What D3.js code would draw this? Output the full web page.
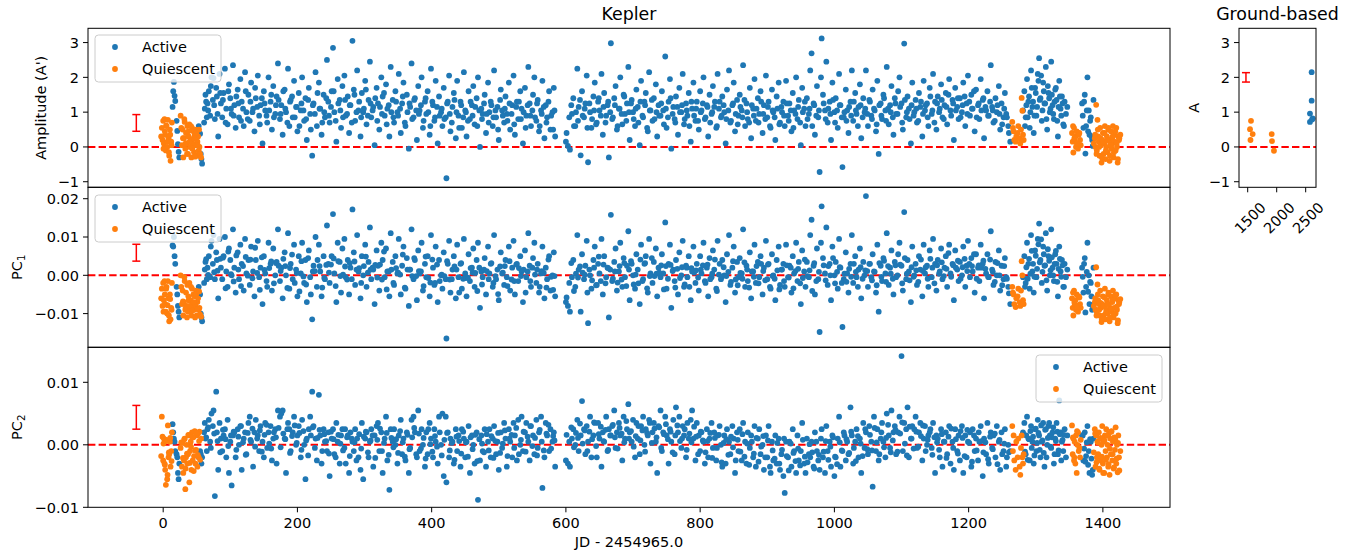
<!DOCTYPE html>
<html><head><meta charset="utf-8">
<script src="https://cdn.jsdelivr.net/npm/d3@7"></script>
<style>body{margin:0;background:#fff}svg{display:block}text{font-family:"DejaVu Sans",sans-serif;fill:#000}</style>
</head><body><svg id="c" width="1354" height="553"></svg>
<script>
// ---------------- Kepler, active epochs ----------------
const activeT=[
14,15,16,17,18,20,21,22,23,24,
53,55,56,57,58,61,62,63,65,66,
68,70,72,74,75,77,79,80,82,84,
86,88,90,92,94,96,98,100,102,104,
106,108,111,113,115,117,120,122,124,127,
129,131,134,136,138,141,143,145,148,150,
152,155,157,160,162,164,167,169,171,174,
176,178,181,183,186,188,190,193,195,198,
200,202,205,207,210,212,214,217,219,222,
224,227,229,232,234,236,239,241,244,246,
248,251,253,255,258,260,263,265,267,270,
272,275,277,279,282,284,286,289,291,294,
296,298,301,303,306,308,310,313,315,318,
320,322,325,327,330,332,334,337,339,342,
344,346,349,351,354,356,358,361,363,366,
368,370,373,375,378,380,382,385,387,390,
392,394,397,399,402,404,406,409,411,414,
416,418,421,422,424,426,428,431,433,436,
438,440,443,445,448,450,452,455,457,460,
462,464,467,469,472,474,476,479,481,484,
486,488,491,493,496,498,500,503,505,508,
510,512,515,517,520,522,524,527,529,532,
534,536,539,541,544,546,548,551,553,556,
558,560,563,565,568,570,572,575,577,580,
582,584,600,603,606,609,611,614,617,619,
622,624,627,629,631,633,636,638,641,643,
646,648,650,653,655,657,660,662,664,667,
669,672,674,676,679,681,684,686,688,691,
693,695,698,700,703,705,707,710,712,715,
717,719,722,724,726,729,731,734,736,738,
741,743,745,748,750,753,755,757,760,762,
764,767,769,772,774,776,779,781,783,786,
788,790,793,795,798,800,802,805,807,810,
812,814,817,819,821,824,826,829,831,833,
836,838,840,843,845,848,850,852,855,857,
859,862,864,867,869,871,874,876,879,881,
883,886,888,890,893,895,898,900,902,905,
907,909,912,914,917,919,921,924,926,928,
931,933,936,938,940,943,945,947,950,952,
955,957,959,962,964,966,969,971,974,976,
978,980,981,983,986,988,990,993,995,997,
1000,1002,1005,1007,1009,1012,1014,1017,1019,1021,
1024,1026,1028,1031,1033,1036,1038,1040,1043,1045,
1047,1050,1052,1055,1057,1059,1062,1064,1066,1069,
1071,1073,1076,1078,1081,1083,1085,1088,1090,1092,
1095,1097,1100,1102,1104,1107,1109,1111,1114,1116,
1119,1121,1123,1126,1128,1131,1133,1135,1138,1140,
1142,1145,1147,1150,1152,1154,1157,1159,1161,1164,
1166,1168,1171,1173,1176,1178,1180,1183,1185,1187,
1190,1192,1195,1197,1199,1202,1204,1206,1209,1211,
1214,1216,1218,1221,1223,1226,1228,1230,1233,1235,
1237,1240,1242,1245,1247,1249,1252,1254,1256,1259,
1262,1281,1283,1285,1287,1289,1291,1293,1295,1297,
1299,1301,1303,1305,1307,1309,1311,1313,1315,1317,
1319,1321,1323,1325,1327,1329,1331,1333,1335,1337,
1339,1341,1343,1345,1347,1369,1371,1373,1377,1379,
1380,1382,1384,1386,
64,67,71,76,81,85,89,93,97,101,
105,109,112,116,119,123,126,130,133,137,
140,144,147,151,154,158,161,165,168,172,
175,179,182,185,189,192,196,199,203,206,
209,213,216,220,223,226,230,233,237,240,
243,247,250,254,257,261,264,268,271,274,
278,281,285,288,292,295,299,302,305,309,
312,316,319,323,326,329,333,336,340,343,
347,350,353,357,360,364,367,371,374,377,
381,384,388,391,395,398,401,405,408,412,
415,419,423,427,430,434,437,441,444,447,
451,454,458,461,465,468,471,475,478,482,
485,489,492,495,499,502,506,509,513,516,
519,523,526,530,533,537,540,543,547,550,
554,557,561,564,567,571,574,578,581,583,
601,605,608,612,615,618,621,625,628,632,
635,639,642,645,649,652,656,659,663,666,
670,673,677,680,683,687,690,694,697,701,
704,708,711,714,718,721,725,728,732,735,
739,742,746,749,752,756,759,763,766,770,
773,777,780,784,787,791,794,797,801,804,
808,811,815,818,822,825,828,832,835,839,
842,846,849,853,856,860,863,866,870,873,
877,880,884,887,891,894,897,901,904,908,
911,915,918,922,925,929,932,935,939,942,
946,949,953,956,960,963,967,970,973,977,
984,987,991,994,998,1001,1004,1008,1011,1015,
1018,1022,1025,1029,1032,1035,1039,1042,1046,1049,
1053,1056,1060,1063,1067,1070,1074,1077,1080,1084,
1087,1091,1094,1098,1101,1105,1108,1112,1115,1118,
1122,1125,1129,1132,1136,1139,1143,1146,1149,1153,
1156,1160,1163,1167,1170,1174,1177,1181,1184,1188,
1191,1194,1198,1201,1205,1208,1212,1215,1219,1222,
1225,1229,1232,1236,1239,1243,1246,1250,1253,1257,
1284,1286,1288,1290,1292,1294,1296,1298,1300,1302,
1304,1306,1308,1310,1312,1314,1316,1318,1320,1322,
1324,1326,1328,1330,1332,1334,1336,1338,1340,1342,
1370,1372,1374,1375,1376,1378,1381,1383,1385,1260];
const activeAmp=[
1.15,1.6,1.87,1.47,1.32,0.75,0.46,0.08,-0.14,-0.3,
0.6,0.38,-0.2,-0.35,-0.48,0.7,1.1,1.5,0.85,1.25,
1.6,0.9,2.0,1.35,1.98,0.8,1.7,1.45,0.3,2.1,
1.25,0.85,1.55,2.25,1.1,0.65,1.8,1.4,0.95,2.35,
1.2,0.55,1.65,0.85,1.95,1.3,0.6,2.15,1.0,1.5,
0.75,1.85,1.1,0.45,1.4,2.05,0.9,1.2,0.1,1.6,
1.05,0.7,2.0,1.3,0.5,1.75,0.95,1.45,2.4,0.8,
1.2,0.35,1.65,1.0,2.25,0.6,1.35,0.85,1.9,1.15,
0.45,1.55,1.05,2.0,0.75,1.4,0.2,1.7,0.95,-0.25,
1.25,2.15,0.6,1.85,1.1,0.35,1.5,0.85,2.5,1.3,
0.7,1.6,2.85,1.0,0.15,1.95,1.35,0.55,1.75,2.05,
0.9,1.45,0.4,1.2,3.05,1.65,0.75,2.2,1.05,0.3,
1.55,1.0,1.9,0.65,1.35,2.45,0.85,1.15,0.05,1.7,
1.25,0.5,2.0,1.45,0.9,1.8,1.1,0.3,2.3,1.35,
0.7,1.6,1.0,2.1,0.4,1.25,1.85,0.6,1.5,-0.05,
1.15,2.4,0.85,1.4,0.2,1.75,1.05,2.0,0.55,1.3,
0.95,1.6,0.35,2.25,1.2,0.75,1.9,0.1,1.45,1.0,
0.6,1.7,0.85,-0.9,1.3,2.05,0.45,1.15,1.55,0.25,
1.9,0.9,1.3,0.55,2.15,1.05,0.3,1.6,0.8,1.2,
1.75,0.65,1.4,2.0,0.0,1.1,0.95,1.5,0.4,1.85,
1.0,1.3,0.6,2.2,0.85,1.15,0.2,1.65,1.05,0.7,
1.45,0.95,1.85,0.5,1.2,2.05,0.35,1.3,0.8,1.6,
1.1,0.1,1.7,0.9,2.3,1.25,0.6,1.5,2.0,0.75,
1.35,0.45,1.05,1.9,0.25,1.2,0.85,1.6,0.5,1.0,
1.7,0.3,0.15,0.03,-0.08,0.95,1.4,0.6,2.25,1.15,
-0.24,1.6,0.85,1.25,2.05,-0.44,1.0,0.55,1.45,1.85,
0.7,1.3,1.05,2.1,0.35,1.55,0.9,1.2,-0.3,2.98,
0.8,1.4,1.75,0.5,1.1,2.0,0.65,1.5,0.95,1.25,
2.3,0.2,1.35,1.0,0.6,1.65,1.15,0.05,1.9,0.85,
1.3,1.55,0.45,2.15,1.05,0.75,1.4,1.8,0.3,1.2,
0.9,1.6,1.05,2.6,0.55,1.3,1.95,-0.05,1.15,0.8,
1.45,0.35,1.7,1.0,2.1,0.65,1.25,0.9,1.55,0.15,
1.1,1.85,0.75,1.3,0.5,1.6,1.05,2.0,0.8,1.2,
0.3,1.5,0.95,1.75,1.15,0.55,2.1,1.3,0.85,1.45,
1.0,0.1,1.65,2.2,0.7,1.2,1.85,0.45,1.35,0.9,
1.5,1.05,2.35,0.6,1.25,0.8,1.7,0.25,1.1,1.95,
0.75,1.4,0.95,1.6,0.4,1.2,2.05,0.85,1.3,0.55,
1.65,1.0,0.2,1.45,1.85,0.7,1.15,1.3,0.6,1.9,
0.9,1.25,0.45,1.55,1.05,2.0,0.8,1.35,0.05,1.7,
1.1,0.6,1.4,0.95,2.2,2.69,1.25,0.35,1.75,0.85,
-0.72,2.0,3.12,1.5,1.05,2.45,0.7,1.3,0.2,1.85,
1.0,1.4,0.55,2.1,1.2,-0.58,0.85,1.65,1.05,0.4,
1.3,2.2,0.75,1.55,0.95,1.15,1.8,0.25,1.4,1.0,
2.2,0.6,1.35,0.9,1.65,1.1,0.45,1.9,-0.2,1.25,
0.8,1.5,1.05,2.3,0.65,1.2,1.75,0.35,1.4,0.95,
1.6,2.0,1.25,0.5,2.97,0.85,1.45,1.1,0.1,1.85,
1.0,1.35,0.7,1.55,1.15,0.3,1.9,1.05,1.25,0.6,
1.7,0.95,2.1,1.3,0.5,1.45,1.1,1.8,0.85,1.2,
1.55,0.65,1.95,1.05,1.35,0.2,1.7,1.15,0.8,1.4,
1.0,1.85,0.6,1.25,2.05,0.9,1.5,1.1,0.45,1.65,
1.2,0.8,1.95,1.35,0.25,1.05,1.6,0.9,2.35,1.15,
0.7,1.4,1.0,1.75,0.5,1.25,0.85,1.55,0.95,0.6,
0.15,1.05,1.6,0.85,1.95,1.3,0.55,2.2,1.15,0.4,
1.7,0.9,2.1,2.55,1.4,0.75,1.85,1.25,2.3,0.5,
1.55,1.0,2.45,1.2,0.8,1.65,1.35,0.3,1.9,1.1,
1.45,0.65,1.3,0.95,1.15,1.25,0.55,1.5,2.0,1.05,
0.35,0.85,0.2,1.35,
1.3,1.05,1.75,1.2,0.95,1.55,1.35,0.7,1.6,1.1,
0.9,1.45,1.25,0.75,1.1,1.6,0.8,1.3,1.0,1.7,
1.15,0.65,1.4,1.25,0.9,1.05,1.5,0.85,1.2,1.35,
0.95,1.6,1.1,0.7,1.3,1.45,0.85,1.15,0.6,1.25,
1.05,0.8,1.35,0.5,1.2,0.95,1.55,1.1,0.7,1.0,
1.4,0.9,1.15,1.6,0.75,1.25,1.05,0.85,1.35,0.95,
1.2,0.7,1.5,1.0,1.3,0.85,1.1,1.65,0.9,1.25,
1.05,1.4,0.75,1.15,0.95,1.55,0.65,1.2,1.0,0.85,
1.3,0.9,1.1,1.45,0.7,1.0,1.25,0.8,1.35,1.05,
0.95,1.2,0.75,1.4,1.0,0.6,1.3,0.85,1.15,0.9,
1.1,0.8,1.25,0.95,0.7,1.35,1.0,0.55,1.2,0.85,
1.0,0.75,1.3,0.9,1.15,0.6,1.05,0.8,1.25,0.95,
0.7,1.2,0.85,1.05,0.5,1.35,0.9,1.1,0.75,1.25,
0.95,0.65,1.15,1.3,0.8,1.0,0.55,1.2,0.9,1.05,
0.85,1.25,0.6,0.95,1.15,0.7,1.3,0.9,0.5,1.05,
0.4,0.85,1.2,0.6,1.0,0.75,1.35,0.9,1.1,0.55,
1.25,0.8,1.05,0.65,1.4,0.9,1.15,0.7,1.3,1.0,
0.85,1.2,0.6,1.1,0.95,1.45,0.75,1.0,1.25,0.8,
1.1,0.7,1.3,0.9,1.2,0.55,1.05,1.35,0.8,1.0,
0.9,1.25,0.65,1.1,0.85,1.4,0.95,0.7,1.15,1.0,
1.2,0.8,1.05,0.6,1.3,0.9,1.1,0.75,1.0,1.25,
0.85,1.15,0.7,1.0,1.3,0.6,1.1,0.9,1.2,0.8,
1.05,0.75,1.25,0.95,0.65,1.15,0.85,1.35,1.0,0.7,
1.2,0.9,1.1,0.7,1.3,0.95,0.8,1.15,0.6,1.05,
0.85,1.1,0.65,1.0,0.9,1.25,0.75,1.05,0.55,0.95,
1.15,0.7,1.0,1.3,0.8,1.1,0.6,1.2,0.9,1.05,
1.25,0.8,1.1,0.95,1.35,0.7,1.05,1.2,0.85,1.0,
0.75,1.15,0.9,1.3,1.05,0.6,1.2,0.85,1.1,0.95,
1.3,0.8,1.05,0.65,1.2,0.9,1.4,0.75,1.1,1.0,
0.85,1.25,0.95,1.15,0.7,1.35,1.0,0.8,1.2,0.9,
1.1,0.75,1.3,0.95,1.2,0.85,1.45,1.05,0.7,1.25,
1.0,1.35,0.8,1.15,1.5,0.9,1.25,1.05,1.4,0.85,
1.2,1.45,0.95,1.3,1.1,1.6,0.85,1.25,1.05,1.4,
1.15,0.9,1.3,1.05,0.75,1.2,0.95,0.65,1.1,0.85,
0.6,1.2,0.85,1.45,1.0,1.7,1.3,0.9,1.55,1.15,
1.9,1.35,2.05,1.05,1.6,1.25,0.8,1.75,1.4,1.1,
1.5,0.95,1.3,1.7,0.75,1.15,1.45,0.9,1.25,0.6,
0.9,1.3,-0.19,0.6,1.05,0.45,0.75,0.3,0.03,0.4];
const activePC1=[
0.0078,0.0075,0.0100,0.0050,0.0030,-0.0030,-0.0050,-0.0080,-0.0095,-0.0110,
-0.003,-0.005,-0.010,-0.011,-0.012,-0.002,0.0015,0.0035,-0.001,0.002,
0.005,-0.0005,0.009,0.003,0.0105,-0.001,0.006,0.004,-0.006,0.0095,
0.002,-0.001,0.005,0.010,0.001,-0.003,0.007,0.004,0.0,0.012,
0.002,-0.0045,0.006,-0.001,0.008,0.003,-0.004,0.0095,0.0005,0.004,
-0.0025,0.0075,0.001,-0.0055,0.004,0.009,-0.0005,0.002,-0.0075,0.005,
0.0005,-0.003,0.0085,0.003,-0.004,0.007,0.0,0.0035,0.012,-0.0015,
0.002,-0.006,0.006,0.0,0.011,-0.0035,0.003,-0.001,0.008,0.0015,
-0.0055,0.005,0.0005,0.0085,-0.002,0.004,-0.007,0.0065,-0.0005,-0.0115,
0.0025,0.01,-0.003,0.008,0.001,-0.0055,0.005,-0.001,0.013,0.003,
-0.002,0.005,0.016,0.0005,-0.007,0.0085,0.0035,-0.0045,0.007,0.0095,
-0.0005,0.004,-0.005,0.002,0.0172,0.006,-0.0025,0.0105,0.001,-0.006,
0.005,0.0,0.008,-0.003,0.0035,0.0125,-0.001,0.0015,-0.0075,0.0065,
0.0025,-0.004,0.0085,0.004,-0.0005,0.007,0.001,-0.0055,0.011,0.0035,
-0.0025,0.005,0.0005,0.0095,-0.005,0.0025,0.0075,-0.0035,0.0045,-0.008,
0.0015,0.012,-0.001,0.004,-0.0065,0.0065,0.0005,0.0085,-0.004,0.003,
-0.0005,0.005,-0.0055,0.0105,0.002,-0.0025,0.0075,-0.007,0.004,0.0,
-0.0035,0.006,-0.001,-0.0165,0.003,0.009,-0.0045,0.0015,0.005,-0.006,
0.008,-0.0005,0.003,-0.0035,0.0095,0.0005,-0.0055,0.0055,-0.0015,0.002,
0.007,-0.003,0.004,0.0085,-0.0085,0.001,-0.0005,0.0045,-0.005,0.0075,
0.0005,0.003,-0.003,0.0105,-0.001,0.0015,-0.0065,0.006,0.0005,-0.0025,
0.004,-0.0005,0.0075,-0.004,0.002,0.009,-0.005,0.003,-0.0015,0.005,
0.001,-0.007,0.0065,-0.0005,0.011,0.0025,-0.003,0.0045,0.0085,-0.002,
0.003,-0.0045,0.0005,0.0075,-0.006,0.002,-0.001,0.005,-0.004,0.0,
0.006,-0.0055,-0.007,-0.008,-0.0095,-0.0005,0.004,-0.003,0.0105,0.0015,
-0.0095,0.0055,-0.001,0.0025,0.009,-0.0125,0.0,-0.0035,0.004,0.0075,
-0.0025,0.003,0.0005,0.0095,-0.005,0.005,-0.0005,0.002,-0.011,0.0158,
-0.0015,0.0035,0.007,-0.004,0.001,0.0085,-0.003,0.0045,-0.0005,0.0025,
0.0115,-0.0065,0.003,0.0,-0.0035,0.0055,0.0015,-0.0075,0.008,-0.001,
0.003,0.005,-0.0045,0.0095,0.0005,-0.002,0.0035,0.007,-0.0055,0.002,
-0.0005,0.0055,0.0005,0.0138,-0.0035,0.003,0.008,-0.0085,0.0015,-0.0015,
0.004,-0.005,0.006,0.0,0.009,-0.003,0.0025,-0.0005,0.005,-0.0065,
0.001,0.0075,-0.002,0.003,-0.004,0.005,0.0005,0.0085,-0.0015,0.002,
-0.0055,0.0045,-0.0005,0.0065,0.0015,-0.0035,0.009,0.003,-0.001,0.004,
0.0,-0.007,0.0055,0.0105,-0.0025,0.002,0.0075,-0.0045,0.0035,-0.0005,
0.0045,0.0005,0.012,-0.003,0.0025,-0.0015,0.006,-0.006,0.001,0.008,
-0.002,0.0035,-0.0005,0.005,-0.005,0.002,0.009,-0.001,0.003,-0.0035,
0.0055,0.0,-0.0065,0.004,0.0075,-0.0025,0.0015,0.003,-0.003,0.008,
-0.0005,0.0025,-0.0045,0.005,0.0005,0.0085,-0.0015,0.0035,-0.0075,0.0065,
0.001,-0.003,0.0035,-0.0005,0.0105,0.0145,0.0025,-0.005,0.007,-0.001,
-0.0148,0.0085,0.018,0.0045,0.0005,0.0125,-0.0025,0.003,-0.0065,0.0075,
0.0,0.0035,-0.0035,0.0095,0.002,-0.0135,-0.001,0.006,0.0005,-0.0045,
0.003,0.0105,-0.002,0.005,-0.0005,0.0015,0.007,-0.006,0.0035,0.0,
0.0207,-0.003,0.003,-0.0005,0.0055,0.001,-0.0045,0.008,-0.0095,0.0025,
-0.0015,0.0045,0.0005,0.011,-0.0025,0.002,0.0065,-0.005,0.0035,-0.0005,
0.0055,0.0085,0.0025,-0.004,0.0165,-0.001,0.004,0.001,-0.007,0.0075,
0.0,0.003,-0.0025,0.005,0.0015,-0.0055,0.008,0.0005,0.0025,-0.003,
0.0065,-0.0005,0.0095,0.003,-0.004,0.004,0.001,0.007,-0.001,0.002,
0.005,-0.003,0.008,0.0005,0.003,-0.0065,0.0065,0.0015,-0.0015,0.0035,
0.0,0.0075,-0.003,0.0025,0.009,-0.0005,0.0045,0.001,-0.0045,0.0055,
0.002,-0.0015,0.008,0.003,-0.006,0.0005,0.0055,-0.0005,0.0115,0.0015,
-0.0025,0.0035,0.0,0.0065,-0.004,0.0025,-0.001,0.0045,-0.0005,-0.003,
-0.0075,-0.0005,0.005,-0.002,0.0085,0.003,-0.0035,0.0105,0.001,-0.0045,
0.0065,-0.0005,0.0095,0.0135,0.004,-0.002,0.0075,0.0025,0.011,-0.004,
0.005,0.0,0.012,0.002,-0.0015,0.0055,0.003,-0.0055,0.0075,0.001,
0.004,-0.003,0.003,-0.0005,0.0015,0.002,-0.0045,0.0045,0.0085,0.0,
-0.0075,-0.002,-0.009,0.002,
0.0042,0.0001,0.0075,0.0008,0.0012,0.0043,0.0046,-0.0034,0.0062,0.0003,
-0.0016,0.0052,0.0015,-0.0028,0.0024,0.0048,-0.0001,0.0041,-0.0008,0.0072,
0.0006,-0.0038,0.0047,0.0014,-0.0015,0.0019,0.0036,-0.0021,0.0032,0.0025,
0.0011,0.0043,0.0024,-0.0033,0.0019,0.0054,-0.0020,0.0006,-0.0042,0.0037,
-0.0003,-0.0024,0.0045,-0.0050,0.0010,0.0011,0.0040,0.0024,-0.0032,-0.0007,
0.0027,0.0007,0.0028,0.0044,-0.0028,0.0037,-0.0002,0.0002,0.0023,-0.0011,
0.0032,-0.0010,0.0036,0.0015,0.0019,-0.0020,0.0024,0.0049,0.0007,0.0015,
0.0020,0.0027,-0.0006,0.0028,-0.0011,0.0062,-0.0037,0.0010,0.0015,-0.0020,
0.0019,0.0007,0.0002,0.0054,-0.0032,0.0015,0.0015,-0.0002,0.0045,-0.0002,
0.0011,0.0010,-0.0028,0.0049,-0.0007,-0.0019,0.0041,-0.0020,0.0028,-0.0015,
0.0002,-0.0002,0.0037,-0.0011,-0.0010,0.0023,0.0015,-0.0045,0.0032,-0.0009,
-0.0007,-0.0006,0.0019,0.0007,0.0006,-0.0041,0.0020,-0.0024,0.0015,0.0011,
-0.0010,0.0032,-0.0020,-0.0002,-0.0049,0.0023,0.0007,0.0024,-0.0028,0.0037,
-0.0011,-0.0015,0.0028,0.0019,-0.0002,0.0015,-0.0045,0.0010,-0.0015,0.0020,
0.0002,0.0015,-0.0030,0.0011,0.0006,-0.0032,0.0041,-0.0004,-0.0038,-0.0002,
-0.0058,-0.0020,0.0032,-0.0041,0.0004,-0.0006,0.0023,0.0007,0.0002,-0.0045,
0.0015,-0.0013,0.0020,-0.0026,0.0049,-0.0015,0.0028,-0.0021,0.0019,0.0015,
-0.0009,0.0010,-0.0019,0.0024,-0.0011,0.0032,-0.0028,0.0015,0.0037,-0.0024,
0.0002,-0.0021,0.0041,-0.0015,0.0032,-0.0034,-0.0002,0.0045,-0.0002,0.0004,
0.0007,0.0026,-0.0037,0.0024,-0.0009,0.0027,0.0011,-0.0032,0.0017,-0.0007,
0.0021,-0.0024,0.0020,-0.0030,0.0019,0.0007,0.0013,-0.0006,0.0015,0.0026,
-0.0020,0.0028,-0.0010,0.0004,0.0041,-0.0041,0.0002,-0.0004,0.0021,-0.0002,
0.0009,-0.0017,0.0037,-0.0011,-0.0026,0.0006,-0.0009,0.0034,0.0015,-0.0032,
0.0010,-0.0004,0.0024,-0.0021,0.0030,0.0011,-0.0013,0.0028,-0.0030,-0.0002,
-0.0009,0.0013,-0.0037,0.0015,-0.0015,0.0026,-0.0006,0.0020,-0.0034,0.0011,
0.0017,-0.0021,-0.0007,0.0041,-0.0002,0.0013,-0.0041,0.0032,-0.0015,0.0009,
0.0026,-0.0013,0.0024,0.0,0.0045,-0.0021,0.0009,0.0021,-0.0020,0.0004,
-0.0017,0.0017,-0.0004,0.0030,0.0009,-0.0030,0.0021,-0.0009,0.0013,0.0011,
0.0030,-0.0013,0.0009,-0.0026,0.0032,-0.0004,0.0038,-0.0017,0.0024,0.0004,
-0.0009,0.0026,0.0,0.0028,-0.0021,0.0045,0.0004,-0.0013,0.0021,-0.0004,
0.0013,-0.0017,0.0041,0.0011,0.0021,-0.0009,0.0043,0.0020,-0.0021,0.0026,
0.0004,0.0034,-0.0002,0.0017,0.0058,-0.0004,0.0026,0.0020,0.0038,-0.0009,
0.0021,0.0043,0.0011,0.0030,0.0024,0.0055,-0.0009,0.0026,0.0020,0.0038,
0.0017,-0.0004,0.0041,0.0009,-0.0017,0.0032,0.0,-0.0026,0.0024,-0.0009,
-0.0030,0.0021,-0.0009,0.0043,0.0004,0.0064,0.0030,-0.0004,0.0051,0.0017,
0.0081,0.0034,0.0094,0.0009,0.0055,0.0026,-0.0013,0.0068,0.0038,0.0013,
0.0047,0.0,0.0030,0.0064,-0.0017,0.0017,0.0043,-0.0004,0.0026,-0.0030,
-0.0004,0.0030,-0.0097,-0.0030,0.0009,-0.0043,-0.0017,-0.0055,-0.0078,-0.0047];
const activePC2=[
0.0033,0.0020,0.0010,0.0005,-0.0010,-0.0015,-0.0020,-0.0045,-0.0055,-0.0030,
-0.002,-0.001,-0.0015,-0.003,-0.002,0.002,0.0035,0.001,-0.001,0.0025,
0.004,0.0005,0.005,0.003,0.0055,-0.0082,0.0085,0.002,-0.004,0.0035,
0.001,-0.001,0.0015,0.0025,-0.002,0.004,-0.0045,0.0005,-0.0065,0.0015,
0.002,-0.002,0.0025,0.0,0.003,-0.004,0.001,0.002,-0.0015,0.0035,
0.0045,0.0005,-0.0035,0.002,0.004,0.0015,-0.001,0.003,0.0005,-0.002,
0.0035,-0.0005,0.002,0.003,-0.0025,0.001,0.0025,-0.003,0.0055,0.0045,
0.005,0.0055,0.001,-0.0045,0.0035,0.0025,-0.001,0.002,0.0045,0.0,
0.0015,0.003,-0.002,0.004,0.0,-0.0055,0.001,0.0025,0.0045,0.0085,
0.003,0.001,-0.0025,0.008,0.0015,-0.003,0.0025,0.0005,-0.001,0.002,
-0.005,0.001,0.0025,-0.0015,0.0035,0.0005,-0.003,0.0015,0.0025,-0.0005,
-0.003,0.0015,-0.0045,0.002,0.0005,-0.001,0.0025,0.001,-0.002,-0.004,
0.0035,-0.0055,0.001,0.002,-0.002,0.0005,0.0025,-0.0035,0.0015,0.003,
0.0035,-0.001,0.002,-0.0045,0.001,0.0045,-0.0025,-0.0072,0.0025,0.0005,
0.0025,0.0,-0.003,0.0015,0.004,-0.0015,0.001,-0.0025,0.002,-0.0045,
-0.0005,0.004,0.0045,0.002,-0.002,0.0055,-0.001,0.0025,0.0,-0.0035,
0.002,-0.0015,0.0035,0.001,-0.002,0.0025,0.0005,-0.003,0.0045,0.0,
0.005,-0.005,0.0045,-0.006,0.002,-0.002,0.001,0.0005,-0.003,0.0025,
-0.001,0.0015,-0.0035,0.0025,0.001,-0.002,0.0005,0.003,-0.0045,0.0015,
0.0,-0.003,0.002,-0.0088,-0.0025,0.0015,-0.001,0.0025,-0.0035,0.0005,
0.0025,-0.002,0.001,0.003,-0.0015,0.0005,-0.004,0.002,-0.0005,0.0035,
0.001,-0.0035,0.0025,0.0005,-0.002,0.0035,0.0015,-0.0025,0.004,0.0,
0.0045,-0.001,0.002,0.0035,0.0005,-0.0025,0.003,0.0015,-0.0015,0.004,
-0.0005,0.002,0.0045,-0.0069,-0.002,0.0035,0.0015,-0.001,0.0025,0.0005,
0.002,-0.0035,-0.0025,-0.003,-0.0035,0.001,0.0025,0.0,0.004,-0.001,
0.0015,0.007,0.0025,-0.0015,0.003,0.0005,0.0045,-0.002,0.0015,0.0035,
-0.002,0.0035,0.001,-0.0035,0.002,0.0005,0.0045,-0.001,0.0025,0.0015,
0.003,0.0055,-0.0005,0.002,0.0035,0.0015,-0.0025,0.0045,0.001,0.0025,
0.0065,0.002,0.0005,0.004,-0.002,0.0035,0.001,-0.0015,0.003,0.0045,
0.0,0.0025,0.0015,0.004,-0.003,0.002,0.0035,0.0005,-0.0045,0.003,
0.0055,-0.001,0.002,0.0045,0.0015,-0.003,0.0025,0.0005,0.004,-0.0015,
0.006,0.002,0.0045,-0.0005,0.003,0.0015,-0.002,0.0035,0.001,0.004,
0.0055,0.001,-0.0025,0.0035,0.0015,-0.001,0.002,0.0005,-0.003,0.0025,
-0.002,0.001,0.0035,-0.0005,0.002,-0.0025,0.0015,0.003,0.0,-0.0035,
0.0015,-0.003,0.0025,0.0005,-0.0015,0.003,0.001,-0.0045,0.002,-0.001,
0.0025,-0.0025,0.0035,0.0005,-0.003,0.002,-0.0005,0.0015,-0.002,0.003,
-0.0035,0.001,0.0025,-0.0015,0.0,-0.004,0.0015,-0.002,0.003,-0.0045,
0.0005,-0.0025,0.0015,-0.003,0.001,-0.004,-0.0015,-0.005,-0.0077,0.0005,
-0.002,0.0005,-0.0035,0.0025,-0.001,-0.0045,0.0015,-0.0025,-0.001,0.0035,
-0.003,-0.0045,0.001,-0.0015,-0.002,0.0005,-0.0035,0.002,-0.001,-0.0025,
-0.004,0.001,0.0025,-0.002,-0.0045,0.003,-0.001,0.0005,-0.0035,0.0015,
-0.005,-0.002,0.001,0.0045,-0.0035,-0.001,0.002,-0.0025,0.0005,-0.0015,
0.006,0.0015,-0.003,0.0005,0.0025,-0.002,0.001,-0.0045,0.0035,-0.0005,
0.002,-0.0015,0.003,0.0005,-0.0067,0.0045,-0.001,0.0025,-0.0025,0.001,
0.0035,0.0005,-0.002,0.005,0.0015,-0.0005,0.0055,0.002,0.003,-0.0015,
0.002,0.0045,0.0142,-0.001,0.0035,0.0025,0.006,-0.002,0.001,0.003,
0.0025,0.0045,-0.0005,0.002,0.0035,-0.0025,0.001,0.003,0.0,0.0015,
0.002,-0.0005,0.0035,-0.0045,0.0015,0.001,-0.002,0.0025,-0.0035,0.0005,
0.002,-0.0015,0.003,-0.003,0.0005,-0.004,0.0025,-0.001,0.0015,-0.0025,
0.003,-0.0045,0.0015,-0.002,0.0005,0.002,-0.0035,0.0025,-0.001,0.001,
-0.0025,0.0005,0.003,-0.005,0.001,-0.0015,0.0035,-0.003,0.002,-0.0005,
0.0015,-0.002,0.003,0.0005,-0.004,0.002,-0.001,0.0025,-0.0035,0.0,
-0.001,0.002,0.0035,-0.0015,0.0045,0.001,-0.0025,0.003,0.0005,-0.003,
0.0025,-0.001,0.004,0.0015,-0.002,0.0005,0.0035,-0.0035,0.0025,0.0,
0.003,0.0015,-0.0005,0.002,-0.003,0.001,0.0035,-0.0015,0.0071,0.002,
0.0005,-0.001,0.0025,-0.002,0.0015,0.0015,-0.0025,0.002,0.003,-0.001,
-0.0045,0.0005,-0.0048,0.001,
0.0012,0.0028,-0.0005,0.0018,0.0006,-0.0012,0.0024,0.0009,-0.0002,0.0015,
0.0021,-0.0008,0.0013,0.0030,0.0004,-0.0016,0.0019,0.0008,0.0026,-0.0003,
0.0010,0.0023,-0.0011,0.0016,0.0032,0.0002,-0.0006,0.0020,0.0012,0.0027,
-0.0004,0.0018,0.0009,0.0025,-0.0013,0.0014,0.0031,0.0003,0.0019,-0.0008,
0.0022,0.0007,-0.0017,0.0015,0.0028,-0.0005,0.0011,0.0024,-0.0010,0.0017,
0.0006,-0.0014,0.0021,0.0009,-0.0020,0.0016,0.0002,-0.0009,0.0025,0.0012,
-0.0018,0.0010,0.0004,-0.0025,0.0017,-0.0006,0.0013,0.0021,-0.0012,0.0007,
0.0015,-0.0021,0.0008,0.0026,-0.0010,0.0003,0.0019,-0.0016,0.0011,-0.0004,
0.0009,-0.0013,0.0022,0.0004,-0.0019,0.0016,-0.0007,0.0012,0.0027,-0.0015,
0.0018,-0.0006,0.0011,-0.0022,0.0025,0.0001,-0.0011,0.0014,-0.0003,0.0020,
-0.0017,0.0008,0.0019,-0.0009,0.0003,-0.0024,0.0013,0.0006,-0.0014,0.0021,
0.0004,-0.0019,0.0012,-0.0007,0.0016,-0.0026,0.0009,0.0002,-0.0012,0.0017,
-0.0009,0.0014,-0.0021,0.0006,0.0019,-0.0013,0.0002,0.0023,-0.0018,0.0010,
0.0016,-0.0005,0.0027,-0.0015,0.0008,0.0021,-0.0011,0.0013,0.0030,-0.0002,
0.0011,-0.0017,0.0024,0.0005,-0.0009,0.0018,0.0032,-0.0006,0.0014,0.0007,
0.0016,0.0005,0.0028,-0.0004,0.0019,0.0011,0.0034,0.0002,0.0023,-0.0010,
0.0021,0.0009,0.0036,-0.0002,0.0017,0.0029,0.0006,0.0024,-0.0008,0.0015,
0.0032,0.0012,-0.0006,0.0027,0.0018,0.0004,0.0038,0.0010,0.0022,-0.0003,
0.0014,0.0030,0.0007,0.0023,-0.0011,0.0019,0.0035,0.0003,0.0026,0.0012,
0.0028,-0.0005,0.0017,0.0033,0.0009,0.0021,-0.0012,0.0015,0.0031,0.0006,
0.0010,0.0025,-0.0008,0.0018,0.0004,0.0029,0.0013,-0.0015,0.0021,0.0007,
-0.0012,0.0006,0.0019,-0.0021,0.0011,-0.0005,0.0016,-0.0028,0.0003,0.0009,
-0.0016,0.0013,-0.0004,-0.0025,0.0008,-0.0011,0.0017,-0.0019,0.0002,-0.0032,
0.0005,-0.0014,0.0011,-0.0027,-0.0003,0.0014,-0.0020,0.0007,-0.0035,-0.0009,
-0.0022,0.0003,-0.0030,-0.0008,0.0010,-0.0018,-0.0041,0.0002,-0.0013,-0.0026,
-0.0006,-0.0033,0.0008,-0.0019,-0.0028,0.0001,-0.0012,-0.0038,0.0005,-0.0016,
-0.0011,0.0006,-0.0024,-0.0003,0.0012,-0.0019,-0.0031,0.0004,-0.0009,0.0015,
0.0009,-0.0013,0.0021,-0.0005,-0.0026,0.0014,0.0002,-0.0018,0.0025,-0.0007,
0.0016,-0.0009,0.0027,0.0004,-0.0015,0.0020,-0.0004,0.0011,0.0032,-0.0012,
0.0007,0.0024,-0.0011,0.0018,0.0036,0.0002,-0.0017,0.0029,0.0010,-0.0006,
0.0021,-0.0003,0.0014,0.0031,-0.0010,0.0008,0.0025,-0.0016,0.0012,0.0004,
-0.0008,0.0017,0.0005,-0.0021,0.0013,0.0026,-0.0005,0.0009,-0.0014,0.0022,
0.0011,-0.0018,0.0024,0.0003,-0.0027,0.0015,-0.0009,0.0020,0.0006,-0.0012,
0.0004,-0.0023,0.0013,-0.0007,0.0018,-0.0031,0.0008,-0.0015,0.0002,-0.0020,
-0.0011,0.0015,-0.0024,0.0009,0.0022,-0.0005,0.0013,-0.0017,0.0026,0.0003,
0.0019,-0.0008,0.0031,0.0007,-0.0013,0.0024,-0.0020,0.0011,0.0035,-0.0003,
0.0012,0.0028,-0.0015,0.0006,0.0021,-0.0009,0.0017,-0.0025,0.0008,0.0016,
0.0015,-0.0006,-0.0027,-0.0018,0.0004,-0.0032,0.0009,-0.0022,-0.0040,-0.0012];

// ---------------- Kepler, quiescent epochs ----------------
const quietT=[
-2,-1,0,1,2,3,4,5,6,7,8,9,10,11,12,13,26,28,29,30,31,32,33,34,35,36,37,38,39,40,41,42,43,44,45,46,47,48,49,50,51,52,53,54,
1265,1266,1267,1268,1270,1271,1273,1274,1276,1277,1278,1279,1280,1281,1282,
1354,1355,1356,1357,1358,1359,1360,1361,1362,1363,1364,1366,1367,
1388,1389,1390,1391,1392,1393,1394,1395,1396,1397,1398,1399,1400,1401,1402,1403,1404,1405,1406,1407,1408,1409,1410,1411,1412,1413,1414,1415,1416,1417,1418,1419,1420,1421,1422,1423,1424,
-3,0.5,2.5,4.5,6.5,8.5,10.5,12.5,27,29.5,31.5,33.5,35.5,37.5,39.5,41.5,43.5,45.5,47.5,49.5,51.5,53.5,55,56.5,
1386.5,1388.5,1390.5,1392.5,1394.5,1396.5,1398.5,1400.5,1402.5,1404.5,1406.5,1408.5,1410.5,1412.5,1414.5,1416.5,1418.5,1420.5,1422.5,1424.5,1426,1355.5,1357.5,1361.5,1365];
const quietAmp=[
0.55,0.2,0.75,0.1,0.8,0.35,-0.1,0.6,0.0,0.78,0.25,-0.25,0.5,-0.4,0.15,0.7,0.9,0.05,0.5,-0.3,0.25,0.72,-0.05,0.4,0.1,0.6,-0.2,0.3,0.65,0.0,0.2,-0.3,0.55,0.1,0.45,-0.15,0.35,0.05,0.5,-0.25,0.15,0.3,-0.1,0.0,
0.72,0.55,0.45,0.2,0.15,0.3,0.4,0.6,0.25,0.1,0.5,1.41,1.04,0.35,0.2,
0.4,0.15,-0.16,0.55,0.2,0.3,0.0,0.45,0.1,-0.05,0.35,0.2,0.05,
0.25,0.0,1.21,-0.1,0.78,0.3,0.15,-0.25,0.55,0.05,-0.45,0.2,0.4,-0.2,0.1,0.6,-0.35,0.0,0.3,-0.15,0.5,0.2,-0.4,0.1,0.45,-0.05,0.25,0.6,-0.3,0.15,0.35,-0.1,0.55,0.0,-0.45,0.3,0.2,
0.3,-0.05,0.45,0.62,0.15,-0.15,0.35,0.05,0.55,0.25,0.8,0.1,-0.2,0.45,0.15,0.6,-0.05,0.25,-0.28,0.4,0.05,0.5,-0.2,-0.3,
0.1,0.35,-0.2,0.5,0.0,0.25,-0.3,0.15,0.4,-0.1,0.2,0.55,-0.25,0.05,0.3,-0.15,0.45,0.1,-0.35,0.25,0.35,0.6,0.25,0.1,0.4];
const quietPC1=[
-0.0035,-0.008,-0.002,-0.0065,-0.0015,-0.0075,-0.0095,-0.003,-0.01,-0.0015,-0.006,-0.012,-0.005,-0.0115,-0.0085,-0.002,0.0,-0.0075,-0.004,-0.0105,-0.007,-0.0015,-0.009,-0.0045,-0.008,-0.0025,-0.0095,-0.0065,-0.002,-0.0085,-0.0065,-0.0105,-0.0035,-0.0075,-0.005,-0.009,-0.0055,-0.008,-0.004,-0.0105,-0.007,-0.006,-0.009,-0.0085,
-0.003,-0.0045,-0.005,-0.0075,-0.0083,-0.006,-0.0055,-0.0035,-0.007,-0.008,-0.004,0.0037,0.0,-0.0065,-0.0075,
-0.006,-0.0085,-0.0105,-0.004,-0.0075,-0.0065,-0.009,-0.005,-0.008,-0.0095,-0.0055,-0.0075,-0.0085,
-0.007,-0.009,0.0021,-0.0095,-0.0024,-0.0065,-0.0075,-0.0105,-0.004,-0.0085,-0.0122,-0.0075,-0.0055,-0.0105,-0.008,-0.0035,-0.0115,-0.009,-0.0065,-0.01,-0.005,-0.0075,-0.012,-0.0085,-0.0055,-0.0095,-0.007,-0.004,-0.011,-0.0085,-0.006,-0.01,-0.005,-0.009,-0.0125,-0.0065,-0.0075,
-0.006,-0.0095,-0.005,-0.0035,-0.0078,-0.0105,-0.0062,-0.009,-0.003,-0.0068,-0.0005,-0.0085,-0.011,-0.0055,-0.008,-0.003,-0.0092,-0.007,-0.011,-0.0048,-0.0088,-0.0042,-0.0102,-0.0108,
-0.008,-0.006,-0.0105,-0.005,-0.009,-0.0072,-0.0115,-0.008,-0.0058,-0.0098,-0.0075,-0.0045,-0.011,-0.0088,-0.0065,-0.0102,-0.0052,-0.0082,-0.0118,-0.007,-0.0062,-0.0045,-0.007,-0.0082,-0.0058];
const quietPC2=[
0.0045,0.0013,-0.0025,0.001,-0.003,-0.004,-0.0064,0.0008,-0.0055,0.0031,-0.002,-0.0015,0.0005,-0.0035,-0.001,0.002,-0.0005,-0.0035,0.0003,-0.0045,-0.0025,0.001,-0.0071,-0.002,0.0,-0.003,-0.0015,0.0015,-0.006,-0.001,0.0005,-0.004,0.002,-0.0025,0.0012,-0.0018,0.0022,-0.003,-0.0008,0.0015,-0.0035,0.0018,-0.002,0.0021,
0.003,-0.001,0.0015,-0.0025,-0.004,0.0005,-0.002,0.001,-0.0035,-0.0048,-0.0005,0.0015,-0.002,-0.003,-0.0015,
0.0031,-0.0015,0.001,-0.0025,0.0005,-0.003,0.0015,-0.0045,0.0,0.002,-0.001,-0.002,0.0008,
0.0025,-0.0035,0.0015,-0.002,0.0005,-0.0015,0.002,-0.004,0.001,-0.0025,0.0,0.003,-0.003,0.0005,-0.0045,0.0015,-0.001,0.0025,-0.002,0.0,-0.0035,0.0018,-0.0048,0.001,-0.0015,0.0022,-0.0025,0.0005,-0.0038,0.0012,-0.0008,0.0028,-0.003,0.0,-0.0044,0.0015,-0.002,
-0.0018,0.0002,-0.0032,0.0006,-0.0048,-0.0012,0.0011,-0.0026,0.0004,-0.0021,0.0009,-0.0038,-0.0014,0.0016,-0.0029,-0.0003,0.0012,-0.0042,-0.0009,0.0019,-0.0016,0.0006,-0.0024,0.0010,
-0.0012,0.0018,-0.0028,0.0004,-0.0038,0.0011,-0.0019,-0.0045,0.0007,-0.0024,0.0015,-0.0031,-0.0006,0.0021,-0.0015,-0.0036,0.0009,-0.0022,0.0003,-0.0041,-0.001,0.0012,-0.002,0.0022,-0.0005];

// ---------------- Ground-based ----------------
const groundQuietT=[1557,1540,1586,1548,1914,1919,1953];
const groundQuietA=[0.75,0.51,0.37,0.2,0.37,0.17,-0.11];
const groundActiveT=[2603,2603,2574,2620,2574,2610];
const groundActiveA=[2.15,1.33,0.96,0.82,0.72,0.79];

// typical error bars (x position, centre, half-length)
const errAmp=[-40,0.69,0.24];
const errPC1=[-40,0.0059,0.0022];
const errPC2=[-40,0.0044,0.0019];
const errGround=[1470,2.0,0.135];

// tick labels
const xTicks=[0,200,400,600,800,1000,1200,1400];
const ampTicks=[-1,0,1,2,3];
const pc1Ticks=[-0.01,0.0,0.01,0.02];
const pc2Ticks=[-0.01,0.0,0.01];
const groundXTicks=[1500,2000,2500];

// ---------------- drawing ----------------
const BLUE="#1f77b4", ORANGE="#ff7f0e", RED="#ff0000";
const FS=14.5, R=2.9;
const svg=d3.select("#c");
const X0=88, X1=1170;
const x=d3.scaleLinear().domain([-112,1500]).range([X0,X1]);

function yAxisDraw(g, y, ticks, fmt, xLeft){
  ticks.forEach(v=>{
    const yy=y(v);
    g.append("line").attr("x1",xLeft-5).attr("x2",xLeft).attr("y1",yy).attr("y2",yy).attr("stroke","#000").attr("stroke-width",1);
    g.append("text").attr("x",xLeft-9).attr("y",yy).attr("dy","0.36em").attr("text-anchor","end").attr("font-size",FS).text(fmt(v));
  });
}
function legend(g, lx, ly){
  const lg=g.append("g");
  lg.append("rect").attr("x",lx).attr("y",ly).attr("width",126).attr("height",47).attr("rx",3.5)
    .attr("fill","#fff").attr("fill-opacity",0.8).attr("stroke","#cccccc").attr("stroke-width",1);
  [["Active",BLUE,12],["Quiescent",ORANGE,34]].forEach(([lab,c,dy])=>{
    lg.append("circle").attr("cx",lx+20).attr("cy",ly+dy).attr("r",R).attr("fill",c);
    lg.append("text").attr("x",lx+47).attr("y",ly+dy).attr("dy","0.36em").attr("font-size",FS).text(lab);
  });
}
function errbar(g, xs, y, e){
  const cx=xs(e[0]), y1=y(e[1]+e[2]), y2=y(e[1]-e[2]);
  g.append("line").attr("x1",cx).attr("x2",cx).attr("y1",y1).attr("y2",y2).attr("stroke",RED).attr("stroke-width",1.5);
  [y1,y2].forEach(yy=>g.append("line").attr("x1",cx-4).attr("x2",cx+4).attr("y1",yy).attr("y2",yy).attr("stroke",RED).attr("stroke-width",1.5));
}

const fmtInt=d3.format("d"), fmt2=d3.format(".2f");
const panels=[
  {top:28.3,bot:187.3,dom:[-1.16,3.41],ticks:ampTicks,fmt:fmtInt,a:activeAmp,q:quietAmp,err:errAmp,leg:[95,35]},
  {top:187.3,bot:347.3,dom:[-0.0188,0.02298],ticks:pc1Ticks,fmt:fmt2,a:activePC1,q:quietPC1,err:errPC1,leg:[95,195]},
  {top:347.3,bot:507.3,dom:[-0.01,0.0156],ticks:pc2Ticks,fmt:fmt2,a:activePC2,q:quietPC2,err:errPC2,leg:[1036,355]}
];
panels.forEach((p,i)=>{
  const g=svg.append("g");
  const y=d3.scaleLinear().domain(p.dom).range([p.bot,p.top]);
  g.append("line").attr("x1",X0).attr("x2",X1).attr("y1",y(0)).attr("y2",y(0))
    .attr("stroke",RED).attr("stroke-width",2).attr("stroke-dasharray","7.4,3.2");
  g.append("g").selectAll("circle").data(activeT).join("circle")
    .attr("cx",d=>x(d)).attr("cy",(d,j)=>y(p.a[j])).attr("r",R).attr("fill",BLUE);
  g.append("g").selectAll("circle").data(quietT).join("circle")
    .attr("cx",d=>x(d)).attr("cy",(d,j)=>y(p.q[j])).attr("r",R).attr("fill",ORANGE);
  errbar(g,x,y,p.err);
  legend(g,p.leg[0],p.leg[1]);
  g.append("rect").attr("x",X0).attr("y",p.top).attr("width",X1-X0).attr("height",p.bot-p.top)
    .attr("fill","none").attr("stroke","#000").attr("stroke-width",1);
  yAxisDraw(g,y,p.ticks,p.fmt,X0);
});
xTicks.forEach(v=>{
  svg.append("line").attr("x1",x(v)).attr("x2",x(v)).attr("y1",507.3).attr("y2",512.3).attr("stroke","#000");
  svg.append("text").attr("x",x(v)).attr("y",528).attr("text-anchor","middle").attr("font-size",FS).text(fmtInt(v));
});
svg.append("text").attr("x",(X0+X1)/2).attr("y",547).attr("text-anchor","middle").attr("font-size",FS).text("JD - 2454965.0");
svg.append("text").attr("x",(X0+X1)/2).attr("y",20).attr("text-anchor","middle").attr("font-size",17.4).text("Kepler");
function ylab(xp, yc, parts){
  const t=svg.append("text").attr("transform",`translate(${xp},${yc}) rotate(-90)`).attr("text-anchor","middle").attr("font-size",FS);
  parts.forEach(([s,sub])=>{
    const ts=t.append("tspan").text(s);
    if(sub){ts.attr("font-size",FS*0.7).attr("dy",3);}
  });
}
ylab(46,107.8,[["Amplitude (A')"]]);
ylab(22,267.3,[["PC"],["1",true]]);
ylab(22,427.3,[["PC"],["2",true]]);

// ground-based panel
const GX0=1239, GX1=1316, GT=28.3, GB=187.3;
const gx=d3.scaleLinear().domain([1350,2678]).range([GX0,GX1]);
const gy=d3.scaleLinear().domain([-1.16,3.41]).range([GB,GT]);
const gg=svg.append("g");
gg.append("line").attr("x1",GX0).attr("x2",GX1).attr("y1",gy(0)).attr("y2",gy(0))
  .attr("stroke",RED).attr("stroke-width",2).attr("stroke-dasharray","7.4,3.2");
gg.append("g").selectAll("circle").data(groundQuietT).join("circle")
  .attr("cx",d=>gx(d)).attr("cy",(d,j)=>gy(groundQuietA[j])).attr("r",R).attr("fill",ORANGE);
gg.append("g").selectAll("circle").data(groundActiveT).join("circle")
  .attr("cx",d=>gx(d)).attr("cy",(d,j)=>gy(groundActiveA[j])).attr("r",R).attr("fill",BLUE);
errbar(gg,gx,gy,errGround);
gg.append("rect").attr("x",GX0).attr("y",GT).attr("width",GX1-GX0).attr("height",GB-GT).attr("fill","none").attr("stroke","#000");
yAxisDraw(gg,gy,ampTicks,fmtInt,GX0);
groundXTicks.forEach(v=>{
  const tx=gx(v);
  gg.append("line").attr("x1",tx).attr("x2",tx).attr("y1",GB).attr("y2",GB+5).attr("stroke","#000");
  gg.append("text").attr("transform",`translate(${tx+12},${GB+14}) rotate(-45)`).attr("text-anchor","end")
    .attr("dy","0.7em").attr("font-size",FS).text(fmtInt(v));
});
svg.append("text").attr("x",(GX0+GX1)/2).attr("y",20).attr("text-anchor","middle").attr("font-size",17.4).text("Ground-based");
ylab(1198.5,107.8,[["A"]]);
</script></body></html>
